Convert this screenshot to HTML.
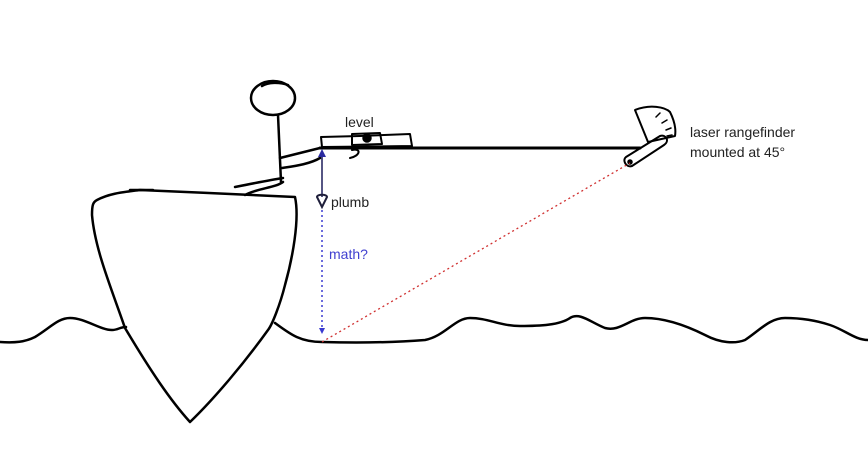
<!DOCTYPE html>
<html><head><meta charset="utf-8"><style>
html,body{margin:0;padding:0;background:#fff}
svg{display:block}
text{font-family:"Liberation Sans",sans-serif;font-size:14px}
</style></head><body>
<svg width="868" height="460" viewBox="0 0 868 460" xmlns="http://www.w3.org/2000/svg">
<g fill="none" stroke="#000" stroke-width="2.5" stroke-linecap="round" stroke-linejoin="round">
<!-- water -->
<path d="M0,342 C15,343 25,342 35,337 C50,328 58,318 70,318 C85,318 100,330 112,330 C118,330 120,327 126,327"/>
<path d="M275,323 C290,334 300,342 322,342 C360,343 400,342 425,340 C445,336 455,318 470,318 C488,318 500,326 520,326 C540,326 560,325 570,318 C580,312 590,322 605,328 C620,332 630,318 645,318 C665,318 685,325 705,335 C720,343 735,344 745,340 C760,330 770,318 785,318 C800,318 815,320 830,325 C845,330 855,340 868,340"/>
<!-- boat -->
<path d="M130,190 L153,190"/>
<path d="M97,200 C110,193 125,192 140,190 C190,192 250,195 295,197 C300,220 292,260 285,285 C280,305 272,325 268,330 C245,362 215,398 190,422 C170,400 150,370 125,328 C112,290 95,250 92,215 C92,205 93,202 97,200 Z"/>
<!-- person -->
<ellipse cx="273" cy="98" rx="22" ry="17"/>
<path d="M262,86 C268,82 280,82 288,85"/>
<path d="M278,115 L281,182"/>
<path d="M280,158 L320,148"/>
<path d="M282,168 C295,166 310,164 320,158"/>
<path d="M235,187 C255,183 270,180 283,178"/>
<path d="M245,195 C258,188 275,188 283,182"/>
<!-- rod -->
<path d="M320,148 L640,148" stroke-width="3"/>
<!-- level -->
<path d="M321,137 L360,136 L410,134 L412,146 L322,147 Z" stroke-width="2"/>
<path d="M352,134 L380,133 L382,144 L352,145 Z" stroke-width="2"/>
<circle cx="367" cy="138" r="3.5" fill="#000"/>
<path d="M352,150 C362,148 360,156 350,158" stroke-width="2"/>
<!-- rangefinder -->
<path d="M648,142 L635,110 C650,104 665,107 670,112 C675,122 676,130 675,136 Z" stroke-width="2"/>
<path d="M656,117 L660,113 M662,123 L667,120 M666,130 L671,128 M667,136 L672,135" stroke-width="1.5"/>
<path d="M626,157 L660,136 C666,134 670,141 664,145 L632,166 C626,168 622,160 626,157 Z" stroke-width="2"/>
<circle cx="630" cy="162" r="1.5" fill="#000"/>
</g>
<!-- plumb arrow up -->
<line x1="322" y1="197" x2="322" y2="155" stroke="#1e1e5a" stroke-width="1.5"/>
<path d="M318,157 L322,149 L326,157 Z" fill="#2a2aa0"/>
<path d="M317,197 C317,194 327,194 327,197 L322,207 Z" fill="none" stroke="#1e1e3a" stroke-width="2"/>
<!-- dotted blue -->
<line x1="322" y1="210" x2="322" y2="328" stroke="#3a3ad0" stroke-width="1.5" stroke-dasharray="2,3"/>
<path d="M319,328 L325,328 L322,334 Z" fill="#3a3ad0"/>
<!-- red dotted -->
<line x1="322" y1="342" x2="630" y2="163" stroke="#d03030" stroke-width="1.3" stroke-dasharray="2,3"/>
<text x="345" y="127" fill="#222">level</text>
<text x="331" y="207" fill="#222">plumb</text>
<text x="329" y="259" fill="#4040d0">math?</text>
<text x="690" y="137" fill="#222">laser rangefinder</text>
<text x="690" y="157" fill="#222">mounted at 45°</text>
</svg>
</body></html>
